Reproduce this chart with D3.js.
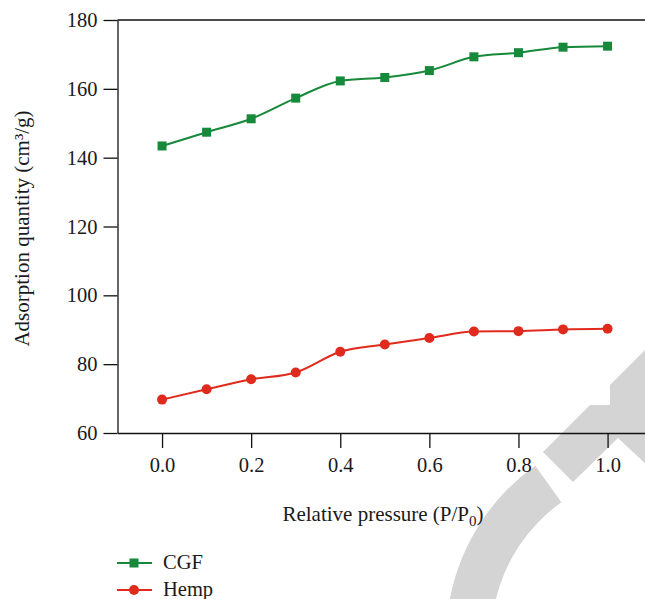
<!DOCTYPE html>
<html>
<head>
<meta charset="utf-8">
<script src="https://cdn.jsdelivr.net/npm/d3@7"></script>
<style>
  body { margin: 0; background: #fff; }
  svg { display: block; font-family: "Liberation Serif", "DejaVu Serif", serif; }
</style>
</head>
<body>
<div id="chart"></div>
<script>
// values
const pressure = [0.0, 0.1, 0.2, 0.3, 0.4, 0.5, 0.6, 0.7, 0.8, 0.9, 1.0];
const cgf  = [143.4, 147.4, 151.3, 157.3, 162.3, 163.3, 165.3, 169.3, 170.5, 172.1, 172.4];
const hemp = [69.7, 72.7, 75.6, 77.6, 83.6, 85.7, 87.6, 89.5, 89.6, 90.1, 90.3];
const xTicks = [0.0, 0.2, 0.4, 0.6, 0.8, 1.0];
const yTicks = [60, 80, 100, 120, 140, 160, 180];
const seriesNames = ["CGF", "Hemp"];
const colors = ["#17893a", "#e02a1d"];

const W = 645, H = 599;
const svg = d3.select("#chart").append("svg")
    .attr("width", W)
    .attr("height", H);

// grey watermark in the lower right corner
const wm = svg.append("g").attr("fill", "#d4d4d4");
wm.append("path")
    .attr("transform", "translate(659,639)")
    .attr("d", d3.arc()({innerRadius: 168, outerRadius: 213, startAngle: -2.1, endAngle: -0.62}));
wm.append("path")
    .attr("d", "M543,452 L590,405 L610,405 L610,385 L650,345 L650,468 L618,438 L573,482 Z");

const x = d3.scaleLinear().domain([-0.1, 1.15]).range([117.5, 674.4]);
const y = d3.scaleLinear().domain([60, 180]).range([433, 20]);

// axes
const xAxis = svg.append("g")
    .attr("transform", `translate(0,${y(60)})`)
    .call(d3.axisBottom(x).tickValues(xTicks).tickFormat(d3.format(".1f"))
        .tickSize(15).tickSizeOuter(0).tickPadding(9));
const yAxis = svg.append("g")
    .attr("transform", `translate(${x(-0.1)},0)`)
    .call(d3.axisLeft(y).tickValues(yTicks).tickSize(14).tickSizeOuter(0).tickPadding(6));

[xAxis, yAxis].forEach(a => {
    a.selectAll("path, line").attr("stroke", "#111").attr("stroke-width", 1.3);
    a.selectAll("text").attr("fill", "#1a1a1a").style("font-size", "20.5px")
        .style("font-family", "'Liberation Serif', serif");
});

// top frame line
svg.append("line")
    .attr("x1", x(-0.1)).attr("x2", x(1.15))
    .attr("y1", y(180)).attr("y2", y(180))
    .attr("stroke", "#111").attr("stroke-width", 1.3);

// axis titles
svg.append("text")
    .attr("x", 383).attr("y", 521)
    .attr("text-anchor", "middle")
    .style("font-size", "21px").attr("fill", "#1a1a1a")
    .text("Relative pressure (P/P")
    .append("tspan").attr("dy", 5).style("font-size", "15px").text("0")
    .select(function() { return this.parentNode; })
    .append("tspan").attr("dy", -5).text(")");

svg.append("text")
    .attr("transform", `translate(29,${(y(60) + y(180)) / 2 + 2}) rotate(-90)`)
    .attr("text-anchor", "middle")
    .style("font-size", "21px").attr("fill", "#1a1a1a")
    .text("Adsorption quantity (cm³/g)");

// lines + markers
const line = d3.line()
    .x((d, i) => x(pressure[i]))
    .y(d => y(d))
    .curve(d3.curveMonotoneX);

[cgf, hemp].forEach((vals, k) => {
    svg.append("path")
        .datum(vals)
        .attr("fill", "none")
        .attr("stroke", colors[k])
        .attr("stroke-width", 2)
        .attr("d", line);
});

svg.selectAll(".sq")
    .data(cgf)
    .join("rect")
        .attr("class", "sq")
        .attr("x", (d, i) => x(pressure[i]) - 4.5)
        .attr("y", d => y(d) - 4.5)
        .attr("width", 9)
        .attr("height", 9)
        .attr("fill", colors[0]);

svg.selectAll(".dot")
    .data(hemp)
    .join("circle")
        .attr("class", "dot")
        .attr("cx", (d, i) => x(pressure[i]))
        .attr("cy", d => y(d))
        .attr("r", 5)
        .attr("fill", colors[1]);

// legend
const legend = svg.append("g").attr("transform", "translate(117,563)");
seriesNames.forEach((name, k) => {
    const g = legend.append("g").attr("transform", `translate(0,${k * 27})`);
    g.append("line").attr("x1", 0).attr("x2", 35)
        .attr("stroke", colors[k]).attr("stroke-width", 2);
    if (k === 0) {
        g.append("rect").attr("x", 12.5).attr("y", -4.5).attr("width", 9).attr("height", 9)
            .attr("fill", colors[k]);
    } else {
        g.append("circle").attr("cx", 17).attr("r", 5).attr("fill", colors[k]);
    }
    g.append("text").attr("x", 46).attr("y", 6)
        .style("font-size", "20.5px").attr("fill", "#1a1a1a")
        .text(name);
});
</script>
</body>
</html>
